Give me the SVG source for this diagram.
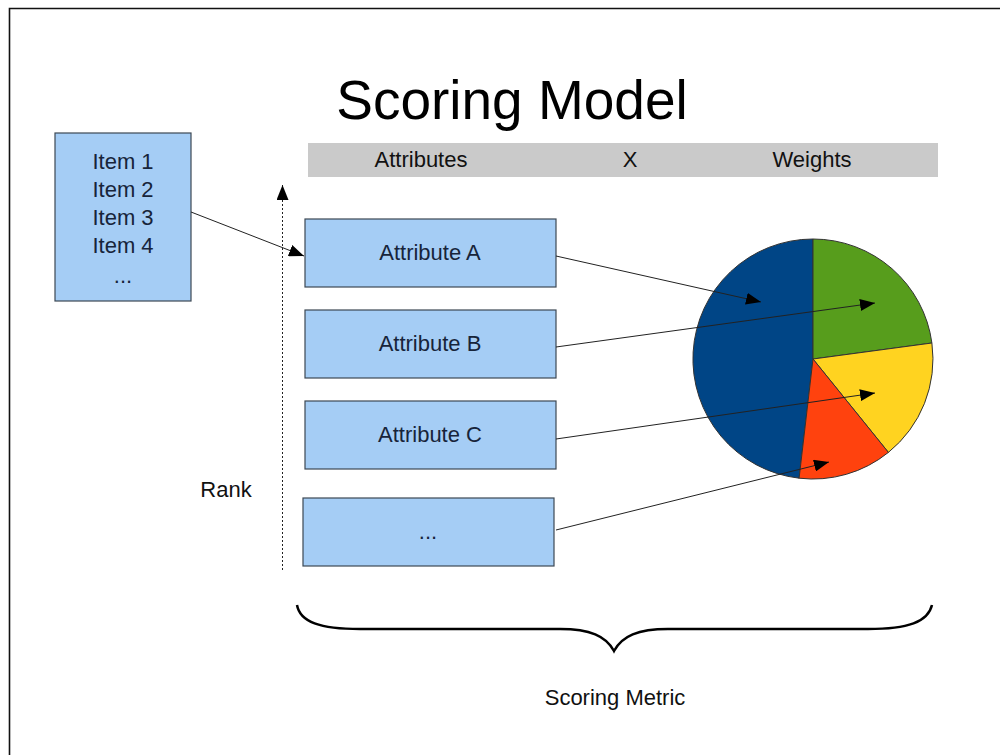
<svg xmlns="http://www.w3.org/2000/svg" width="1000" height="755" viewBox="0 0 1000 755">
<defs>
<style>
.box{fill:#a5cdf5;stroke:#3c4854;stroke-width:1.2}
.bt{font-family:"Liberation Sans",Arial,sans-serif;font-size:22px;fill:#17243a;text-anchor:middle}
.lbl{font-family:"Liberation Sans",Arial,sans-serif;font-size:22px;fill:#111;text-anchor:middle}
.conn{stroke:#222;stroke-width:1;fill:none}
.slice{stroke:#333;stroke-width:1}
</style>
<marker id="ah" markerUnits="userSpaceOnUse" markerWidth="16" markerHeight="12" refX="15" refY="6" orient="auto">
<path d="M0,0 L15,6 L0,12 Z" fill="#000"/>
</marker>
</defs>
<rect x="0" y="0" width="1000" height="755" fill="#fff"/>
<path d="M9.5,755 V8.5 H1000" fill="none" stroke="#111" stroke-width="1.6"/>
<text x="512" y="119" font-family="Liberation Sans,Arial,sans-serif" font-size="55" fill="#000" text-anchor="middle">Scoring Model</text>
<g id="header">
<rect x="308" y="143" width="630" height="34" fill="#cacaca"/>
<text class="lbl" x="421" y="167">Attributes</text>
<text class="lbl" x="630" y="167">X</text>
<text class="lbl" x="812" y="167">Weights</text>
</g>
<g id="items">
<rect class="box" x="55" y="133" width="136" height="168"/>
<text class="bt" x="123" y="169">Item 1</text>
<text class="bt" x="123" y="197">Item 2</text>
<text class="bt" x="123" y="225">Item 3</text>
<text class="bt" x="123" y="253">Item 4</text>
<text class="bt" x="123" y="283">...</text>
</g>
<g id="attrA">
<rect class="box" x="305" y="219" width="251" height="68"/>
<text class="bt" x="430" y="260">Attribute A</text>
</g>
<g id="attrB">
<rect class="box" x="305" y="310" width="251" height="68"/>
<text class="bt" x="430" y="351">Attribute B</text>
</g>
<g id="attrC">
<rect class="box" x="305" y="401" width="251" height="68"/>
<text class="bt" x="430" y="442">Attribute C</text>
</g>
<g id="attrMore">
<rect class="box" x="303" y="498" width="251" height="68"/>
<text class="bt" x="428" y="539">...</text>
</g>
<g id="rank">
<line x1="282.5" y1="570" x2="282.5" y2="185" stroke="#222" stroke-width="1" stroke-dasharray="2,2" marker-end="url(#ah)"/>
<text class="lbl" x="226" y="497">Rank</text>
</g>
<g id="pie">
<path class="slice" fill="#004586" d="M813,359 L799.1,478.2 A120,120 0 0 1 813,239 Z"/>
<path class="slice" fill="#579d1c" d="M813,359 L813,239 A120,120 0 0 1 931.9,343 Z"/>
<path class="slice" fill="#ffd320" d="M813,359 L931.9,343 A120,120 0 0 1 888.4,452.4 Z"/>
<path class="slice" fill="#ff420e" d="M813,359 L888.4,452.4 A120,120 0 0 1 799.1,478.2 Z"/>
</g>
<g id="connectors">
<line class="conn" x1="191" y1="212" x2="304" y2="256" marker-end="url(#ah)"/>
<line class="conn" x1="556" y1="256" x2="761" y2="302" marker-end="url(#ah)"/>
<line class="conn" x1="556" y1="347" x2="875" y2="303" marker-end="url(#ah)"/>
<line class="conn" x1="556" y1="439" x2="875" y2="393" marker-end="url(#ah)"/>
<line class="conn" x1="556" y1="530" x2="829" y2="462" marker-end="url(#ah)"/>
</g>
<g id="bracket">
<path d="M297,605 C300,622 320,629 360,629 L560,629 C590,629 606,636 614,651 C622,636 638,629 668,629 L868,629 C908,629 928,622 932,605" fill="none" stroke="#000" stroke-width="2.5"/>
<text class="lbl" x="615" y="705">Scoring Metric</text>
</g>
</svg>
